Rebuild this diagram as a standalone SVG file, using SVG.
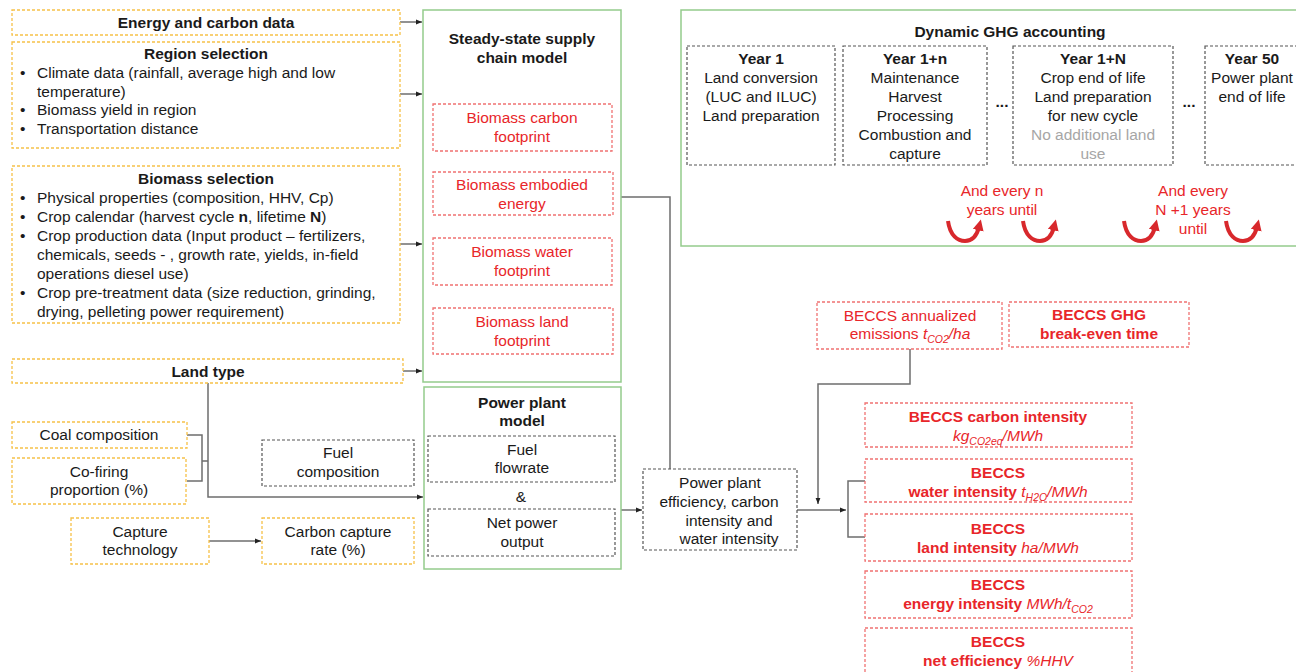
<svg xmlns="http://www.w3.org/2000/svg" width="1296" height="672" viewBox="0 0 1296 672">
<style>
.t{font-family:"Liberation Sans",Arial,sans-serif;font-size:15.5px;fill:#1a1a1a}
.b{font-weight:bold}
.c{text-anchor:middle}
.r{fill:#e8262a}
.g{fill:#a6a6a6}
.i{font-style:italic;font-weight:normal}
.s{font-size:10.5px}
.ob{fill:#fff;stroke:#f6c148;stroke-width:1.3;stroke-dasharray:3 2}
.rb{fill:#fff;stroke:#f07272;stroke-width:1.3;stroke-dasharray:3 2}
.kb{fill:#fff;stroke:#555;stroke-width:1.2;stroke-dasharray:3 2}
.gb{fill:#fff;stroke:#94cb8c;stroke-width:1.5}
.ln{fill:none;stroke:#6e6e6e;stroke-width:1.5}
.ar{marker-end:url(#ah)}
.cu{fill:none;stroke:#d8282c;stroke-width:4;marker-end:url(#ch)}
</style>
<defs>
<marker id="ah" viewBox="0 0 10 10" refX="10" refY="5" markerWidth="6" markerHeight="6" markerUnits="userSpaceOnUse" orient="auto"><path d="M0,1 L10,5 L0,9z" fill="#222"/></marker>
<marker id="ch" viewBox="0 0 10 10" refX="3" refY="5" markerWidth="11" markerHeight="11" markerUnits="userSpaceOnUse" orient="auto"><path d="M0,0 L10,5 L0,10z" fill="#d8282c"/></marker>
</defs>
<rect width="1296" height="672" fill="#fff"/>

<g id="connectors">
<path class="ln ar" d="M400,22 H422"/>
<path class="ln ar" d="M400,94 H422"/>
<path class="ln ar" d="M400,244 H422"/>
<path class="ln ar" d="M403,371 H422"/>
<path class="ln ar" d="M208,383 V497 H423"/>
<path class="ln" d="M187,435 H202 V481 H187 M202,461 H208"/>
<path class="ln ar" d="M209,541 H261"/>
<path class="ln ar" d="M621,510 H642"/>
<path class="ln" d="M621,197 H670 V469"/>
<path class="ln ar" d="M797,510 H846"/>
<path class="ln" d="M865,481 H848 V537 H865"/>
<path class="ln ar" d="M910,349 V384 H818 V504"/>
</g>

<g id="energy"><rect class="ob" x="12" y="10" width="388" height="25"/><text class="t b c" x="206" y="27.5">Energy and carbon data</text></g>

<g id="region"><rect class="ob" x="12" y="42" width="388" height="106"/>
<text class="t b c" x="206" y="59">Region selection</text>
<text class="t" x="20" y="78">•</text><text class="t" x="37" y="78">Climate data (rainfall, average high and low</text>
<text class="t" x="37" y="96.5">temperature)</text>
<text class="t" x="20" y="115">•</text><text class="t" x="37" y="115">Biomass yield in region</text>
<text class="t" x="20" y="133.5">•</text><text class="t" x="37" y="133.5">Transportation distance</text>
</g>

<g id="biomass"><rect class="ob" x="12" y="166" width="388" height="157"/>
<text class="t b c" x="206" y="184">Biomass selection</text>
<text class="t" x="20" y="203">•</text><text class="t" x="37" y="203">Physical properties (composition, HHV, Cp)</text>
<text class="t" x="20" y="222">•</text><text class="t" x="37" y="222">Crop calendar (harvest cycle <tspan class="b">n</tspan>, lifetime <tspan class="b">N</tspan>)</text>
<text class="t" x="20" y="241">•</text><text class="t" x="37" y="241">Crop production data (Input product – fertilizers,</text>
<text class="t" x="37" y="260">chemicals, seeds - , growth rate, yields, in-field</text>
<text class="t" x="37" y="279">operations diesel use)</text>
<text class="t" x="20" y="298">•</text><text class="t" x="37" y="298">Crop pre-treatment data (size reduction, grinding,</text>
<text class="t" x="37" y="317">drying, pelleting power requirement)</text>
</g>

<g id="landtype"><rect class="ob" x="12" y="359" width="391" height="24"/><text class="t b c" x="208" y="376.5">Land type</text></g>

<g id="coal"><rect class="ob" x="12" y="422" width="175" height="26"/><text class="t c" x="99" y="439.5">Coal composition</text></g>
<g id="cofiring"><rect class="ob" x="12" y="458" width="174" height="46"/><text class="t c" x="99" y="476.5">Co-firing</text><text class="t c" x="99" y="494.5">proportion (%)</text></g>
<g id="fuelcomp"><rect class="kb" x="262" y="440" width="152" height="46"/><text class="t c" x="338" y="457.5">Fuel</text><text class="t c" x="338" y="476.5">composition</text></g>
<g id="capture"><rect class="ob" x="71" y="518" width="138" height="46"/><text class="t c" x="140" y="536.5">Capture</text><text class="t c" x="140" y="554.5">technology</text></g>
<g id="capturerate"><rect class="ob" x="262" y="518" width="152" height="46"/><text class="t c" x="338" y="536.5">Carbon capture</text><text class="t c" x="338" y="554.5">rate (%)</text></g>

<g id="steady"><rect class="gb" x="423" y="10" width="198" height="372"/>
<text class="t b c" x="522" y="43.5">Steady-state supply</text><text class="t b c" x="522" y="62.5">chain model</text>
<rect class="rb" x="433" y="104" width="179" height="47"/><text class="t r c" x="522" y="123">Biomass carbon</text><text class="t r c" x="522" y="141.5">footprint</text>
<rect class="rb" x="433" y="172" width="180" height="43"/><text class="t r c" x="522" y="189.5">Biomass embodied</text><text class="t r c" x="522" y="208.5">energy</text>
<rect class="rb" x="433" y="238" width="179" height="47"/><text class="t r c" x="522" y="256.5">Biomass water</text><text class="t r c" x="522" y="275.5">footprint</text>
<rect class="rb" x="433" y="308" width="180" height="46"/><text class="t r c" x="522" y="326.5">Biomass land</text><text class="t r c" x="522" y="345.5">footprint</text>
</g>

<g id="powerplant"><rect class="gb" x="424" y="387" width="197" height="182"/>
<text class="t b c" x="522" y="407.5">Power plant</text><text class="t b c" x="522" y="425.5">model</text>
<rect class="kb" x="428" y="436" width="187" height="46"/><text class="t c" x="522" y="454.5">Fuel</text><text class="t c" x="522" y="472.5">flowrate</text>
<text class="t c" x="521" y="501.5">&amp;</text>
<rect class="kb" x="428" y="509" width="187" height="47"/><text class="t c" x="522" y="527.5">Net power</text><text class="t c" x="522" y="546.5">output</text>
</g>

<g id="ppeff"><rect class="kb" x="643" y="469" width="154" height="81"/>
<text class="t c" x="720" y="487.5">Power plant</text><text class="t c" x="719" y="506.5">efficiency, carbon</text><text class="t c" x="729" y="525.5">intensity and</text><text class="t c" x="729" y="543.5">water intensity</text>
</g>

<g id="dynamic"><rect class="gb" x="681" y="10" width="640" height="236"/>
<text class="t b c" x="1010" y="36.5">Dynamic GHG accounting</text>
<rect class="kb" x="687" y="46" width="148" height="119"/>
<text class="t b c" x="761" y="63.5">Year 1</text><text class="t c" x="761" y="82.5">Land conversion</text><text class="t c" x="761" y="101.5">(LUC and ILUC)</text><text class="t c" x="761" y="120.5">Land preparation</text>
<rect class="kb" x="843" y="46" width="144" height="119"/>
<text class="t b c" x="915" y="63.5">Year 1+n</text><text class="t c" x="915" y="82.5">Maintenance</text><text class="t c" x="915" y="101.5">Harvest</text><text class="t c" x="915" y="120.5">Processing</text><text class="t c" x="915" y="139.5">Combustion and</text><text class="t c" x="915" y="158.5">capture</text>
<text class="t b c" x="1002" y="107">...</text>
<rect class="kb" x="1013" y="46" width="160" height="119"/>
<text class="t b c" x="1093" y="63.5">Year 1+N</text><text class="t c" x="1093" y="82.5">Crop end of life</text><text class="t c" x="1093" y="101.5">Land preparation</text><text class="t c" x="1093" y="120.5">for new cycle</text><text class="t g c" x="1093" y="139.5">No additional land</text><text class="t g c" x="1093" y="158.5">use</text>
<text class="t b c" x="1189" y="107">...</text>
<rect class="kb" x="1205" y="46" width="110" height="119"/>
<text class="t b c" x="1252" y="63.5">Year 50</text><text class="t c" x="1252" y="82.5">Power plant</text><text class="t c" x="1252" y="101.5">end of life</text>
<text class="t r c" x="1002" y="196">And every n</text><text class="t r c" x="1002" y="214.5">years until</text>
<text class="t r c" x="1193" y="196">And every</text><text class="t r c" x="1193" y="214.5">N +1 years</text><text class="t r c" x="1193" y="233.5">until</text>
<path class="cu" d="M948,221 C950,236 958,241 965,241 C973,241 977,235 979,227"/>
<path class="cu" d="M1023,221 C1025,236 1033,241 1040,241 C1048,241 1052,235 1054,227"/>
<path class="cu" d="M1124,221 C1126,236 1134,241 1141,241 C1149,241 1153,235 1155,227"/>
<path class="cu" d="M1226,221 C1228,236 1236,241 1243,241 C1251,241 1255,235 1257,227"/>
</g>

<g id="annualized"><rect class="rb" x="817" y="302" width="185" height="47"/>
<text class="t r c" x="910" y="320.5">BECCS annualized</text>
<text class="t r c" x="910" y="338.5">emissions <tspan class="i">t</tspan><tspan class="i s" dy="4">CO2</tspan><tspan class="i" dy="-4">/ha</tspan></text>
</g>
<g id="breakeven"><rect class="rb" x="1009" y="302" width="180" height="45"/>
<text class="t r b c" x="1099" y="319.5">BECCS GHG</text><text class="t r b c" x="1099" y="338.5">break-even time</text>
</g>
<g id="carbonint"><rect class="rb" x="865" y="403" width="267" height="44"/>
<text class="t r b c" x="998" y="421.5">BECCS carbon intensity</text>
<text class="t r c" x="998" y="440.5"><tspan class="i">kg</tspan><tspan class="i s" dy="4">CO2eq</tspan><tspan class="i" dy="-4">/MWh</tspan></text>
</g>
<g id="waterint"><rect class="rb" x="865" y="459" width="267" height="43"/>
<text class="t r b c" x="998" y="477.5">BECCS</text>
<text class="t r b c" x="998" y="497">water intensity <tspan class="i">t</tspan><tspan class="i s" dy="4">H2O</tspan><tspan class="i" dy="-4">/MWh</tspan></text>
</g>
<g id="landint"><rect class="rb" x="865" y="514" width="267" height="47"/>
<text class="t r b c" x="998" y="533.5">BECCS</text>
<text class="t r b c" x="998" y="552.5">land intensity <tspan class="i">ha/MWh</tspan></text>
</g>
<g id="energyint"><rect class="rb" x="865" y="571" width="267" height="47"/>
<text class="t r b c" x="998" y="589.5">BECCS</text>
<text class="t r b c" x="998" y="609">energy intensity <tspan class="i">MWh/t</tspan><tspan class="i s" dy="4">CO2</tspan></text>
</g>
<g id="neteff"><rect class="rb" x="865" y="628" width="267" height="50"/>
<text class="t r b c" x="998" y="646.5">BECCS</text>
<text class="t r b c" x="998" y="665.5">net efficiency <tspan class="i">%HHV</tspan></text>
</g>
</svg>
